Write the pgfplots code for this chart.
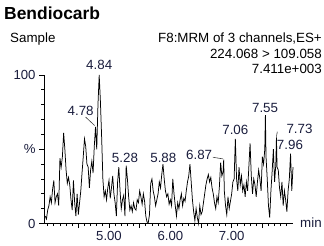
\documentclass[border=0pt]{standalone}
\usepackage{pgfplots}
\pgfplotsset{compat=1.18}
\usepackage{pgfplotstable}
\usepackage{fontspec}
\setmainfont{Liberation Sans}
\definecolor{lab}{RGB}{25,28,60}
\pgfplotstableread{
t v
3.96 5
3.98 3
4.00 9
4.02 12
4.04 18
4.06 14
4.08 23
4.10 29
4.12 14
4.14 18
4.16 20
4.18 12
4.20 44
4.22 38
4.24 45
4.26 61
4.28 50
4.30 36
4.32 27
4.34 31
4.36 26
4.38 16
4.40 9
4.42 29
4.44 14
4.46 5
4.48 20
4.50 6
4.52 14
4.54 22
4.56 34
4.58 45
4.60 57
4.62 52
4.64 40
4.66 38
4.68 24
4.70 36
4.72 42
4.74 34
4.76 52
4.78 65
4.80 50
4.82 80
4.84 100
4.86 82
4.88 58
4.90 30
4.92 18
4.94 22
4.96 16
4.98 24
5.00 29
5.02 17
5.04 24
5.06 32
5.08 20
5.10 14
5.12 5
5.14 28
5.16 38
5.18 22
5.20 10
5.22 16
5.24 19
5.26 5
5.28 39
5.30 30
5.32 18
5.34 9
5.36 12
5.38 8
5.40 14
5.42 10
5.44 9
5.46 16
5.48 14
5.50 22
5.52 18
5.54 13
5.56 20
5.58 15
5.60 5
5.62 1
5.64 0.5
5.66 6
5.68 27
5.70 30
5.72 22
5.74 18
5.76 12
5.78 16
5.80 20
5.82 28
5.84 24
5.86 33
5.88 40
5.90 30
5.92 22
5.94 18
5.96 20
5.98 13
6.00 16
6.02 12
6.04 30
6.06 20
6.08 12
6.10 5
6.12 14
6.14 10
6.16 16
6.18 20
6.20 12
6.22 17
6.24 15
6.26 22
6.28 28
6.30 32
6.32 40
6.34 28
6.36 16
6.38 8
6.40 2
6.42 10
6.44 4
6.46 0
6.48 12
6.50 6
6.52 8
6.54 14
6.56 20
6.58 26
6.60 30
6.62 33
6.64 28
6.66 31
6.68 24
6.70 20
6.72 14
6.74 10
6.76 18
6.78 14
6.80 25
6.82 41
6.84 32
6.86 35
6.87 43
6.88 22
6.90 12
6.92 6
6.94 18
6.96 10
6.98 15
7.00 20
7.02 28
7.04 30
7.06 57
7.08 30
7.10 22
7.12 38
7.14 26
7.16 32
7.18 22
7.20 26
7.22 18
7.24 28
7.26 22
7.28 38
7.30 54
7.32 32
7.34 20
7.36 30
7.38 26
7.40 18
7.42 28
7.44 36
7.46 30
7.48 22
7.50 45
7.52 40
7.54 50
7.55 73
7.56 45
7.58 30
7.60 12
7.62 4
7.64 22
7.66 35
7.68 50
7.70 28
7.72 40
7.73 58
7.74 38
7.76 36
7.78 24
7.80 18
7.82 28
7.84 12
7.86 22
7.88 16
7.90 8
7.92 22
7.94 30
7.96 47
7.98 22
8.00 38
}\trace
\begin{document}
\begin{tikzpicture}[x=1bp,y=1bp]
\begin{axis}[
  at={(44bp,22.5bp)}, anchor=south west,
  scale only axis, width=249bp, height=148.5bp,
  xmin=3.94, xmax=8.0, ymin=0, ymax=100,
  axis x line=bottom, axis y line=left,
  axis line style={-, line width=0.9bp, black},
  xtick={4.5,5,5.5,6,6.5,7,7.5},
  xticklabels={,5.00,,6.00,,7.00,},
  minor xtick={4.0,4.1,4.2,4.3,4.4,4.6,4.7,4.8,4.9,5.1,5.2,5.3,5.4,5.6,5.7,5.8,5.9,6.1,6.2,6.3,6.4,6.6,6.7,6.8,6.9,7.1,7.2,7.3,7.4,7.6,7.7,7.8,7.9},
  ytick={0,50,100}, yticklabels={0,\%,100},
  minor ytick={10,20,30,40,60,70,80,90},
  tick align=outside,
  major tick length=4.5bp, minor tick length=2.5bp,
  tick style={line width=0.8bp, black},
  xticklabel style={font=\fontsize{13.2}{13.2}\selectfont, text=lab},
  yticklabel style={font=\fontsize{13.2}{13.2}\selectfont, text=lab, xshift=-0.5bp},
  clip=false,
]
\addplot[black, line width=0.75bp] table[x=t, y=v] {\trace};
\node[anchor=base, text=lab, font=\fontsize{13.4}{13.4}\selectfont] at (axis cs:4.84,104) {4.84};
\node[anchor=base, text=lab, font=\fontsize{13.4}{13.4}\selectfont] at (axis cs:4.537,73) {4.78};
\draw[black!75, line width=0.6bp] (axis cs:4.618,71.7) -- (axis cs:4.765,66);
\node[anchor=base, text=lab, font=\fontsize{13.4}{13.4}\selectfont] at (axis cs:5.26,41.4) {5.28};
\node[anchor=base, text=lab, font=\fontsize{13.4}{13.4}\selectfont] at (axis cs:5.886,41.4) {5.88};
\node[anchor=base, text=lab, font=\fontsize{13.4}{13.4}\selectfont] at (axis cs:6.47,42.8) {6.87};
\draw[black!75, line width=0.6bp] (axis cs:6.694,44.6) -- (axis cs:6.86,43.5);
\node[anchor=base, text=lab, font=\fontsize{13.4}{13.4}\selectfont] at (axis cs:7.06,59.6) {7.06};
\node[anchor=base, text=lab, font=\fontsize{13.4}{13.4}\selectfont] at (axis cs:7.545,75) {7.55};
\node[anchor=base, text=lab, font=\fontsize{13.4}{13.4}\selectfont] at (axis cs:8.106,60.3) {7.73};
\draw[black!75, line width=0.6bp] (axis cs:7.744,61.8) -- (axis cs:7.73,58.5);
\node[anchor=base, text=lab, font=\fontsize{13.4}{13.4}\selectfont] at (axis cs:7.95,49.5) {7.96};
\end{axis}
\node[anchor=base west, inner sep=0pt, font=\bfseries\fontsize{17.5}{17.5}\selectfont] at (4,227) {Bendiocarb};
\node[anchor=base west, inner sep=0pt, font=\fontsize{13.4}{13.4}\selectfont] at (10,204) {Sample};
\node[anchor=base east, inner sep=0pt, font=\fontsize{13.4}{13.4}\selectfont] at (322,204) {F8:MRM of 3 channels,ES+};
\node[anchor=base east, inner sep=0pt, font=\fontsize{13.4}{13.4}\selectfont] at (322,188) {224.068 > 109.058};
\node[anchor=base east, inner sep=0pt, font=\fontsize{13.4}{13.4}\selectfont] at (322,173) {7.411e+003};
\node[anchor=base west, inner sep=0pt, text=lab, font=\fontsize{13.4}{13.4}\selectfont] at (300,19) {min};
\pgfresetboundingbox
\useasboundingbox (0,0) rectangle (324,246);
\end{tikzpicture}
\end{document}
